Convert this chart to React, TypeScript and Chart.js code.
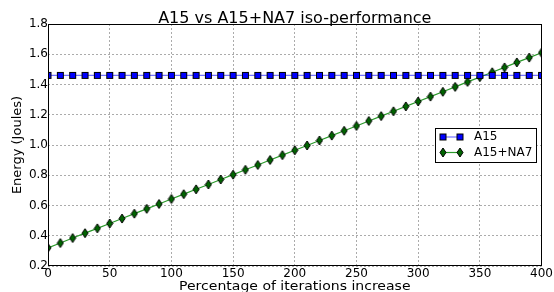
import React, { useEffect, useRef } from "react";
import { Chart, registerables } from "chart.js";

Chart.register(...registerables);

const iterations = [0, 10, 20, 30, 40, 50, 60, 70, 80, 90, 100, 110, 120, 130, 140, 150, 160, 170, 180, 190, 200, 210, 220, 230, 240, 250, 260, 270, 280, 290, 300, 310, 320, 330, 340, 350, 360, 370, 380, 390, 400];
const a15Energy = [1.46, 1.46, 1.46, 1.46, 1.46, 1.46, 1.46, 1.46, 1.46, 1.46, 1.46, 1.46, 1.46, 1.46, 1.46, 1.46, 1.46, 1.46, 1.46, 1.46, 1.46, 1.46, 1.46, 1.46, 1.46, 1.46, 1.46, 1.46, 1.46, 1.46, 1.46, 1.46, 1.46, 1.46, 1.46, 1.46, 1.46, 1.46, 1.46, 1.46, 1.46];
const a15na7Energy = [0.32, 0.352, 0.385, 0.417, 0.449, 0.481, 0.514, 0.546, 0.578, 0.61, 0.643, 0.675, 0.707, 0.739, 0.772, 0.804, 0.836, 0.868, 0.901, 0.933, 0.965, 0.997, 1.03, 1.062, 1.094, 1.126, 1.159, 1.191, 1.223, 1.255, 1.288, 1.32, 1.352, 1.384, 1.417, 1.449, 1.481, 1.513, 1.546, 1.578, 1.61];
const seriesNames = ["A15", "A15+NA7"];
const chartTitle = "A15 vs A15+NA7 iso-performance";
const xTitle = "Percentage of iterations increase";
const yTitle = "Energy (Joules)";

const FONT = "'DejaVu Sans', sans-serif";

function makeSquare(fill: string, side: number) {
  const c = document.createElement("canvas");
  c.width = side + 2;
  c.height = side + 2;
  const ctx = c.getContext("2d")!;
  ctx.fillStyle = fill;
  ctx.strokeStyle = "#000";
  ctx.lineWidth = 1;
  ctx.fillRect(1, 1, side, side);
  ctx.strokeRect(1.5, 1.5, side - 1, side - 1);
  return c;
}

function makeDiamond(fill: string, w: number, h: number) {
  const c = document.createElement("canvas");
  c.width = w + 2;
  c.height = h + 2;
  const ctx = c.getContext("2d")!;
  const cx = (w + 2) / 2;
  const cy = (h + 2) / 2;
  ctx.beginPath();
  ctx.moveTo(cx, cy - h / 2);
  ctx.lineTo(cx + w / 2, cy);
  ctx.lineTo(cx, cy + h / 2);
  ctx.lineTo(cx - w / 2, cy);
  ctx.closePath();
  ctx.fillStyle = fill;
  ctx.fill();
  ctx.strokeStyle = "#000";
  ctx.lineWidth = 1;
  ctx.stroke();
  return c;
}

export default function App() {
  const ref = useRef<HTMLCanvasElement>(null);
  useEffect(() => {
    document.body.style.margin = "0";
    const sq = makeSquare("#0000ff", 7);
    const dm = makeDiamond("#006400", 6, 9);
    const lineA = "rgba(0,0,255,0.55)";
    const lineB = "#2a9a2a";

    const framePlugin = {
      id: "frame",
      afterDatasetsDraw(chart: any) {
        const { ctx, chartArea: a } = chart;
        ctx.save();
        ctx.strokeStyle = "#000";
        ctx.lineWidth = 1;
        ctx.strokeRect(Math.round(a.left) + 0.5, Math.round(a.top) + 0.5, Math.round(a.right - a.left) - 1, Math.round(a.bottom - a.top) - 1);
        ctx.restore();
      },
      afterDraw(chart: any) {
        const { ctx, chartArea: a } = chart;
        const cx = (a.left + a.right) / 2;
        ctx.save();
        // title
        ctx.fillStyle = "#000";
        ctx.font = `16px ${FONT}`;
        ctx.textAlign = "center";
        ctx.textBaseline = "alphabetic";
        ctx.fillText(chartTitle, cx, a.top - 1.5);
        // x axis title (slightly wide, as in the reference)
        ctx.save();
        ctx.translate(cx, a.bottom + 24);
        ctx.scale(1.22, 1);
        ctx.font = `11.5px ${FONT}`;
        ctx.fillText(xTitle, 0, 0);
        ctx.restore();
        // legend
        const w = 101, h = 34;
        const bx = Math.round(a.right - 6 - w);
        const by = Math.round((a.top + a.bottom) / 2 - h / 2);
        ctx.fillStyle = "#fff";
        ctx.fillRect(bx, by, w, h);
        ctx.strokeStyle = "#000";
        ctx.lineWidth = 1;
        ctx.strokeRect(bx + 0.5, by + 0.5, w, h);
        const rows = [
          { y: by + 9, color: lineA, img: sq, name: seriesNames[0] },
          { y: by + 24.5, color: lineB, img: dm, name: seriesNames[1] },
        ];
        for (const r of rows) {
          const x1 = bx + 8, x2 = bx + 25;
          ctx.strokeStyle = r.color;
          ctx.lineWidth = 1.2;
          ctx.beginPath();
          ctx.moveTo(x1, r.y);
          ctx.lineTo(x2, r.y);
          ctx.stroke();
          for (const x of [x1, x2]) {
            ctx.drawImage(r.img, x - r.img.width / 2, r.y - r.img.height / 2);
          }
          ctx.fillStyle = "#000";
          ctx.font = `12px ${FONT}`;
          ctx.textAlign = "left";
          ctx.textBaseline = "middle";
          ctx.fillText(r.name, bx + 39, r.y);
        }
        ctx.restore();
      },
    };

    const gridCfg = { color: "#ababab", lineWidth: 1, drawTicks: false };
    const chart = new Chart(ref.current!, {
      type: "line",
      data: {
        datasets: [
          {
            label: seriesNames[0],
            data: iterations.map((x, i) => ({ x, y: a15Energy[i] })),
            borderColor: lineA,
            borderWidth: 1.3,
            pointStyle: sq as any,
            pointRadius: 4,
            clip: 0 as any,
          },
          {
            label: seriesNames[1],
            data: iterations.map((x, i) => ({ x, y: a15na7Energy[i] })),
            borderColor: lineB,
            borderWidth: 1.2,
            pointStyle: dm as any,
            pointRadius: 4,
            clip: 0 as any,
          },
        ],
      },
      options: {
        responsive: false,
        animation: false,
        devicePixelRatio: 1,
        layout: { padding: { top: 24, right: 12, left: 0, bottom: 0 } },
        plugins: { legend: { display: false }, title: { display: false }, tooltip: { enabled: false } },
        scales: {
          x: {
            type: "linear",
            min: 0,
            max: 400,
            afterFit: (s: any) => { s.height = 26; },
            ticks: { stepSize: 50, color: "#000", font: { family: FONT, size: 12 }, padding: 1, maxRotation: 0 },
            grid: gridCfg,
            border: { display: false, dash: [2, 2] },
            title: { display: false, text: xTitle },
          },
          y: {
            min: 0.2,
            max: 1.8,
            afterFit: (s: any) => { s.width = 48; },
            ticks: { stepSize: 0.2, color: "#000", font: { family: FONT, size: 12 }, padding: 0, callback: (v: any) => Number(v).toFixed(1) },
            grid: gridCfg,
            border: { display: false, dash: [2, 2] },
            title: { display: true, text: yTitle, color: "#000", font: { family: FONT, size: 13 }, padding: { top: 10, bottom: 0 } },
          },
        },
      },
      plugins: [framePlugin],
    });
    return () => chart.destroy();
  }, []);
  return (
    <div style={{ width: 554, height: 292 }}>
      <canvas ref={ref} width={554} height={292} />
    </div>
  );
}
